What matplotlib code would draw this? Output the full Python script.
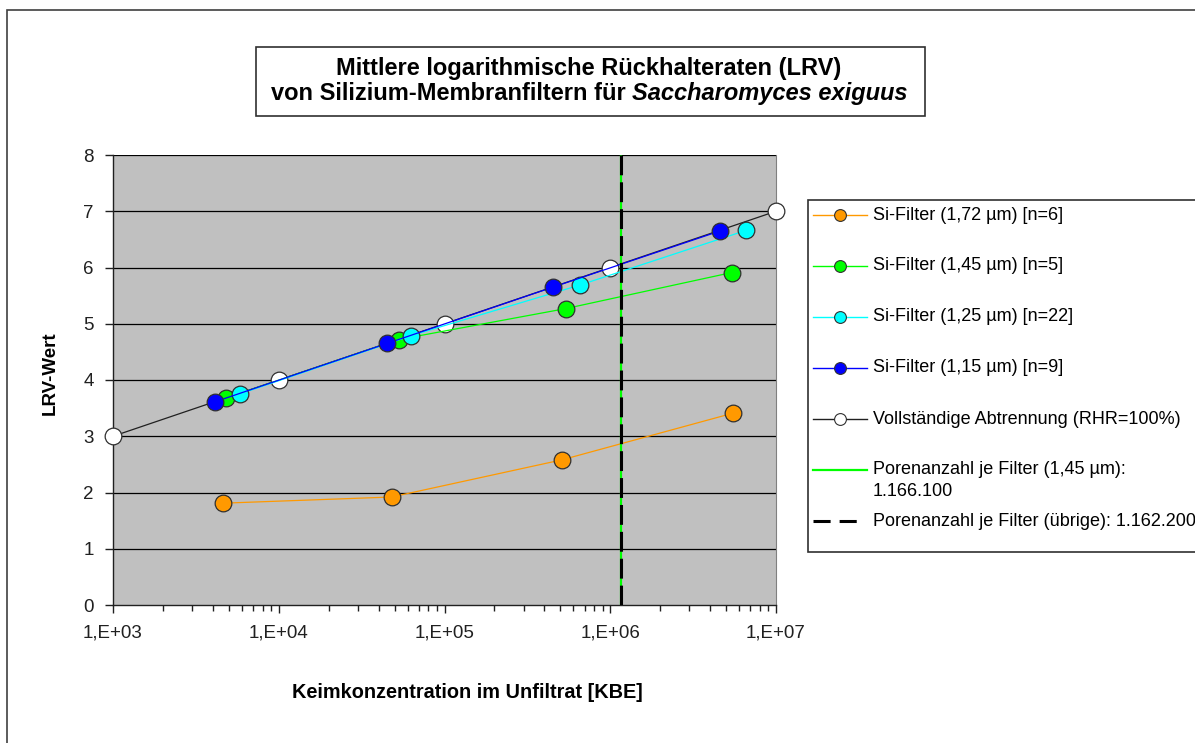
import matplotlib
matplotlib.use("Agg")
import matplotlib.pyplot as plt
from matplotlib.lines import Line2D
from matplotlib.patches import Rectangle
from matplotlib.ticker import FixedLocator, LogLocator, NullFormatter

plt.rcParams['font.family'] = ['Liberation Sans', 'DejaVu Sans']

# Mean LRV per filter type vs. germ concentration in the unfiltered sample
x_172 = [4.6e3, 4.8e4, 5.1e5, 5.5e6]
y_172 = [1.81, 1.92, 2.58, 3.41]

x_145 = [4.8e3, 5.3e4, 5.4e5, 5.4e6]
y_145 = [3.68, 4.72, 5.27, 5.91]

x_125 = [5.8e3, 6.3e4, 6.6e5, 6.6e6]
y_125 = [3.75, 4.79, 5.69, 6.66]

x_115 = [4.1e3, 4.5e4, 4.5e5, 4.6e6]
y_115 = [3.61, 4.65, 5.65, 6.65]

x_full = [1e3, 1e4, 1e5, 1e6, 1e7]
y_full = [3, 4, 5, 6, 7]

pores_145 = 1166100
pores_other = 1162200

x_ticks = [1e3, 1e4, 1e5, 1e6, 1e7]
x_tick_labels = ["1,E+03", "1,E+04", "1,E+05", "1,E+06", "1,E+07"]
y_ticks = [0, 1, 2, 3, 4, 5, 6, 7, 8]

series_colors = ['#FF9900', '#00FF00', '#00FFFF', '#0000FF']
series_labels = [
    "Si-Filter (1,72 µm) [n=6]",
    "Si-Filter (1,45 µm) [n=5]",
    "Si-Filter (1,25 µm) [n=22]",
    "Si-Filter (1,15 µm) [n=9]",
]
full_label = "Vollständige Abtrennung (RHR=100%)"
pores_145_lines = ["Porenanzahl je Filter (1,45 µm):", "1.166.100"]
pores_other_label = "Porenanzahl je Filter (übrige): 1.162.200"

W, H = 1195, 743
fig = plt.figure(figsize=(W / 100, H / 100), dpi=100)


def fx(px):
    return px / W


def fy(py):
    return 1 - py / H


# chart area frame
fig.patches.append(Rectangle((fx(7), -0.05), 1.2, fy(10) + 0.05,
                             transform=fig.transFigure, fill=False,
                             edgecolor='#404040', linewidth=1.2))

ax = fig.add_axes([fx(113), fy(605), (776 - 113) / W, (605 - 155) / H])
ax.set_facecolor('#C0C0C0')
ax.set_xscale('log')
ax.set_xlim(1e3, 1e7)
ax.set_ylim(0, 8)

for y in y_ticks[1:]:
    ax.axhline(y, color='black', linewidth=0.9, zorder=1)

mk = dict(marker='o', markersize=12, markeredgecolor='#303030', markeredgewidth=0.9)

ax.plot(x_full, y_full, color='#202020', linewidth=0.9, markerfacecolor='white',
        zorder=3, clip_on=False, **mk)
for xs, ys, c in zip([x_172, x_145, x_125, x_115], [y_172, y_145, y_125, y_115], series_colors):
    ax.plot(xs, ys, color=c, linewidth=0.9, markerfacecolor=c, zorder=4, **mk)

ax.axvline(pores_145, color='#00FF00', linewidth=1.6, zorder=5)
ax.axvline(pores_other, color='black', linewidth=2.2, dashes=(6.5, 2.3), zorder=6)

ax.spines['top'].set_visible(False)
ax.spines['right'].set_color('#808080')
ax.spines['left'].set_color('#202020')
ax.spines['bottom'].set_color('#202020')
ax.spines['left'].set_linewidth(1.0)
ax.spines['bottom'].set_linewidth(1.0)

ax.xaxis.set_major_locator(FixedLocator(x_ticks))
ax.set_xticklabels(x_tick_labels)
ax.xaxis.set_minor_locator(LogLocator(base=10, subs=range(2, 10)))
ax.xaxis.set_minor_formatter(NullFormatter())
ax.set_yticks(y_ticks)
ax.tick_params(axis='both', which='major', direction='out', length=6, width=1,
               labelsize=13.5, colors='#202020', pad=8)
ax.tick_params(axis='x', which='minor', direction='out', length=4, width=1, colors='#202020')
ax.tick_params(axis='y', pad=8)

fig.text(fx(467), fy(692), "Keimkonzentration im Unfiltrat [KBE]", ha='center', va='center',
         fontsize=14.3, fontweight='bold')
fig.text(fx(50), fy(373), "LRV-Wert", ha='center', va='center', rotation=90,
         fontsize=13.5, fontweight='bold')

# title box
fig.patches.append(Rectangle((fx(256), fy(116)), (925 - 256) / W, (116 - 47) / H,
                             transform=fig.transFigure, facecolor='white',
                             edgecolor='#303030', linewidth=1.2))
title_fs = 17
title_cx = 589
fig.text(fx(title_cx), fy(75), "Mittlere logarithmische Rückhalteraten (LRV)",
         ha='center', va='baseline', fontsize=title_fs, fontweight='bold')

renderer = fig.canvas.get_renderer()
part_a = fig.text(0, fy(100), "von Silizium-Membranfiltern für", ha='left', va='baseline',
                  fontsize=title_fs, fontweight='bold')
part_b = fig.text(0, fy(100), "Saccharomyces exiguus", ha='left', va='baseline',
                  fontsize=title_fs, fontweight='bold', fontstyle='italic')
probe = fig.text(0, 0, "x x", fontsize=title_fs, fontweight='bold')
probe2 = fig.text(0, 0, "xx", fontsize=title_fs, fontweight='bold')
space_w = probe.get_window_extent(renderer).width - probe2.get_window_extent(renderer).width
probe.remove()
probe2.remove()
wa = part_a.get_window_extent(renderer).width
wb = part_b.get_window_extent(renderer).width
start = title_cx - (wa + space_w + wb) / 2
part_a.set_x(fx(start))
part_b.set_x(fx(start + wa + space_w))

# legend box, drawn entry by entry
fig.patches.append(Rectangle((fx(808), fy(552)), 1.0, (552 - 200) / H,
                             transform=fig.transFigure, facecolor='white',
                             edgecolor='#303030', linewidth=1.2, zorder=2))
leg_fs = 13
text_x = 873
entry_y = [215, 266, 317, 368]
for yy, c, lab in zip(entry_y, series_colors, series_labels):
    fig.add_artist(Line2D([fx(813), fx(867)], [fy(yy)] * 2, color=c, linewidth=1.0, zorder=3))
    fig.add_artist(Line2D([fx(840)], [fy(yy)], marker='o', markersize=8.5, markerfacecolor=c,
                          markeredgecolor='#303030', markeredgewidth=0.8, zorder=4))
    fig.text(fx(text_x), fy(yy), lab, ha='left', va='center', fontsize=leg_fs, zorder=4)

fig.add_artist(Line2D([fx(813), fx(867)], [fy(419)] * 2, color='#202020', linewidth=1.0, zorder=3))
fig.add_artist(Line2D([fx(840)], [fy(419)], marker='o', markersize=8.5, markerfacecolor='white',
                      markeredgecolor='#303030', markeredgewidth=0.8, zorder=4))
fig.text(fx(text_x), fy(419), full_label, ha='left', va='center', fontsize=leg_fs, zorder=4)

fig.add_artist(Line2D([fx(813), fx(867)], [fy(470)] * 2, color='#00FF00', linewidth=1.6, zorder=3))
for yy, line in zip([470, 492], pores_145_lines):
    fig.text(fx(text_x), fy(yy), line, ha='left', va='center', fontsize=leg_fs, zorder=4)

fig.add_artist(Line2D([fx(813), fx(857)], [fy(521)] * 2, color='black', linewidth=2.2,
                      dashes=(5.6, 2.95), zorder=3))
fig.text(fx(text_x), fy(521), pores_other_label, ha='left', va='center', fontsize=leg_fs, zorder=4)

fig.savefig("out.png", dpi=100)
